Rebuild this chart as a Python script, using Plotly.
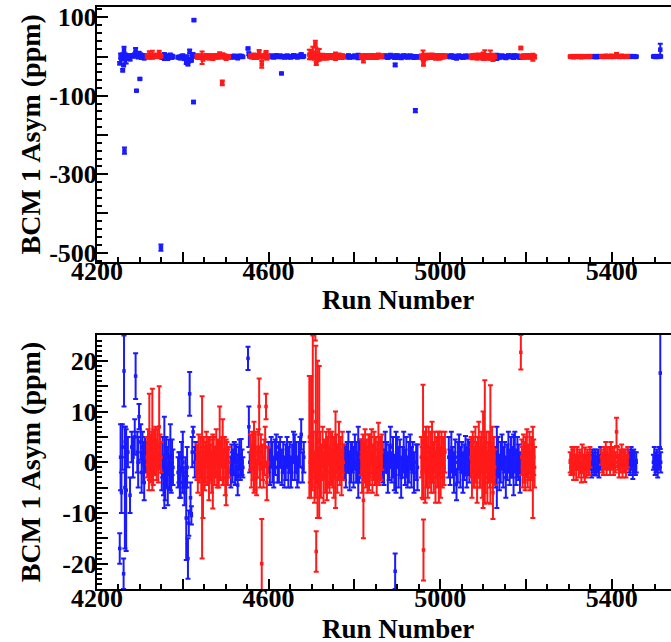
import plotly.graph_objects as go

# ---------------- data ----------------
blue_run = [
    4253, 4255, 4257, 4259, 4260, 4262, 4263, 4264, 4265, 4266, 4268, 4272, 4277, 4281, 4284,
    4288, 4290, 4292, 4294, 4296, 4298, 4300, 4302, 4304, 4306, 4308, 4310, 4312, 4314,
    4349, 4351, 4353, 4355, 4357, 4359, 4361, 4363, 4365, 4367, 4369, 4371, 4373, 4375, 4377,
    4389, 4391, 4393, 4395, 4397, 4400, 4402, 4404, 4406, 4408, 4410, 4412, 4414, 4416, 4418,
    4420, 4422, 4424, 4425, 4426, 4428, 4430,
    4512, 4514, 4516, 4518, 4520, 4522, 4524, 4526, 4528, 4530, 4532, 4534, 4536, 4538, 4540,
    4552, 4554, 4556,
    4600, 4603, 4606, 4609, 4612, 4615, 4618, 4621, 4624, 4627, 4630, 4631, 4634, 4637, 4640,
    4643, 4646, 4649, 4652, 4655, 4658, 4661, 4664, 4667, 4670, 4673, 4676, 4679, 4682,
    4777, 4780, 4783, 4786, 4789, 4792, 4795, 4798, 4801, 4804, 4807, 4809, 4811, 4813,
    4866, 4869, 4872, 4875, 4878, 4881, 4884, 4887, 4890, 4893, 4895, 4897, 4900, 4903, 4906,
    4909, 4912, 4915, 4918, 4921, 4924, 4927, 4930, 4933, 4936, 4939, 4942, 4944, 4947,
    5020, 5023, 5026, 5029, 5032, 5035, 5038, 5041, 5044, 5047, 5050, 5053, 5056, 5059, 5062,
    5065, 5068,
    5130, 5132, 5135, 5138, 5141, 5144, 5147, 5150, 5153, 5156, 5159, 5162, 5165, 5168, 5171,
    5174, 5177, 5180, 5183, 5186,
    5351, 5353, 5355, 5357, 5359, 5361, 5364, 5366, 5368, 5370, 5372, 5374,
    5439, 5441, 5443, 5445, 5447, 5449, 5451, 5453, 5455, 5457,
    5497, 5499, 5501, 5503, 5505, 5507, 5509, 5511, 5513, 5514,
]
blue_asym = [
    -17, 1, -6, 3, -35, -22, 18, -240, -5, 4, -5.5, 2, -6.5, 3, 1,
    5, 17, -87, 2, 0, 9, -57, 4, -2, 3, 0, -4, 2, 1,
    -487, -2, 1, -3, 0, -4, 2, -1, -5, 1, -2, 1, -3, 1, -1,
    -2, -1, -2.5, -4, 1, 0, -3, -6, -2, -11, -1, -19, -12, 13.5, -7,
    -10.5, 2, 6, -116, 93, 0, 2,
    -2, 1, -1, 0, 2, -2, 1, -1, -4.5, 0, 1.5, -1, 1, 0, -1,
    20.5, 7, 0,
    1, -1, 2, 0, -2, 1, 3, -1, 0, 2, -43, -1, 1, -2, 0,
    2, -1, 1, -2, 0, 3, 1, 1, -2, 0, 2, 5.5, -1, 1,
    0, -1, 1, 2, -2, 0, 1, -1, 2, 0, -1, 0, -3, 1,
    0, -1, 2, 1, -2, 0, 3, -1, 1, -2, -21.5, 0, 2, -1, 1,
    -3, 0, 2, -1, 1, -2, 0, 2, -1, 1, -2, -138, 0, -1,
    1, -1, 2, 0, -2, 1, -4.4, 0, 2, -1, 1, -2, 0, 1.3, -1,
    1, 0,
    -1, -1, 1, -2, 0, 2, -1, 1, -3, 0, 2, -1, 1, 0, -0.5,
    2, -1, 1, 0, -2,
    0, -1, 1, 0, -1, 1, -1.6, 0, 1, -1, 0, 1,
    1, 0, -1, 1, 0, -0.5, 1, 0, -1, 0,
    0, 1, -1, 0, 1, -1, 0, 1, 17.6, 0,
]
blue_err = [
    3, 6.5, 4, 4.5, 3, 3, 7, 8, 12, 3, 12, 3, 3.5, 3, 4,
    3.5, 4.5, 2, 4, 5, 2.5, 2, 3.5, 4, 3, 4, 3.5, 3, 3,
    8, 3.5, 4, 3.5, 9, 3.5, 3, 4, 3.5, 3.5, 3.5, 6.5, 3, 3.5, 3.5,
    3, 3, 4.5, 3, 3, 6, 2, 2.5, 3, 8.3, 4, 4, 2.5, 4.3, 3,
    1.8, 3, 1, 3, 3, 3, 2,
    3, 2.5, 3, 2.5, 2, 2.5, 2.5, 2.5, 2, 3, 3, 2.5, 3.6, 2.5, 2,
    2.3, 4, 2,
    3, 3.5, 3, 4, 3, 3.5, 2.5, 3, 4, 3, 2, 3.5, 3, 3, 3.5,
    3, 4, 3, 3, 3.5, 3, 4.5, 3, 3, 4, 3, 3, 3, 3,
    3.5, 4, 3, 4, 3.5, 4, 3, 4, 3.5, 4, 3, 7, 1, 3.5,
    4, 3.5, 4, 3, 4, 3.5, 4, 3, 4, 3.5, 3.5, 6, 3, 4, 3.5,
    4, 3, 4, 3.5, 4, 3, 4, 3.5, 4, 3, 4, 4, 3.5, 4.5,
    4, 3.5, 4, 3, 4, 3.5, 3.1, 4, 3.5, 4, 3, 4, 3.5, 3.9, 4,
    3.5, 4,
    4, 8, 4, 3.5, 4, 3.5, 4, 3, 4, 3.5, 4, 3.5, 4, 3, 6,
    4, 3.5, 4, 3.5, 4,
    1.5, 2, 1.5, 2, 1.5, 1.5, 1, 2, 1.5, 2, 1.5, 2,
    1.5, 2, 1.5, 2, 1.5, 2.8, 1.5, 2, 1.5, 2,
    1.5, 2, 1.5, 2, 1.5, 2, 1.5, 2, 15, 2,
]

red_run = [
    4317, 4319, 4321, 4322, 4324, 4326, 4328, 4329, 4331, 4333, 4335, 4337, 4339, 4341, 4343,
    4345, 4347, 4349,
    4433, 4435, 4437, 4439, 4441, 4443, 4445, 4447, 4449, 4451, 4453, 4455, 4457, 4459, 4461,
    4463, 4465, 4467, 4469, 4470, 4472, 4474, 4476, 4478, 4480, 4482, 4484, 4486, 4488, 4490,
    4492, 4493, 4495, 4497, 4499, 4501, 4503, 4505, 4507,
    4558, 4560, 4562, 4564, 4566, 4568, 4570, 4572, 4574, 4576, 4578, 4580, 4582, 4584, 4586,
    4588, 4590, 4592, 4594, 4596, 4598,
    4695, 4697, 4699, 4701, 4703, 4705, 4707, 4709, 4710, 4711, 4712, 4714, 4716, 4718, 4720,
    4722, 4724, 4726, 4728, 4730, 4732, 4734, 4736, 4738, 4740, 4742, 4744, 4746, 4748, 4750,
    4752, 4754, 4756, 4758, 4760, 4762, 4764, 4766, 4768, 4770, 4772, 4774,
    4816, 4818, 4820, 4821, 4823, 4825, 4827, 4829, 4831, 4833, 4834, 4836, 4838, 4840, 4842,
    4844, 4846, 4848, 4850, 4852, 4854, 4856, 4858, 4860, 4862, 4864,
    4956, 4958, 4960, 4961, 4963, 4965, 4967, 4969, 4971, 4973, 4975, 4977, 4979, 4981, 4983,
    4985, 4987, 4989, 4991, 4993, 4995, 4997, 4999, 5001, 5003, 5005, 5007, 5009, 5011,
    5072, 5074, 5076, 5078, 5080, 5082, 5084, 5086, 5088, 5090, 5092, 5094, 5096, 5098, 5100,
    5102, 5104, 5106, 5108, 5110, 5112, 5114, 5116, 5117, 5119, 5121, 5123, 5125, 5127,
    5188, 5190, 5192, 5194, 5196, 5198, 5200, 5202, 5204, 5206, 5208, 5210, 5212, 5214, 5216,
    5218, 5220,
    5303, 5305, 5307, 5309, 5311, 5313, 5315, 5317, 5319, 5321, 5323, 5325, 5327, 5329, 5331,
    5333, 5335, 5337, 5339, 5341, 5343, 5345, 5347, 5349,
    5376, 5378, 5380, 5382, 5384, 5386, 5388, 5390, 5392, 5394, 5396, 5398, 5400, 5402, 5404,
    5406, 5408, 5411, 5413, 5415, 5417, 5419, 5421, 5423, 5425, 5427, 5429, 5431, 5433, 5435,
    5437,
]
red_asym = [
    1, 3, -2, 5, 2, 0, 3, 4.5, -1, 2, 1, 4, 0, 3, -1,
    7, 2, 1,
    0, -2, 2, -1, 1, -3, -3, -4, 2, -2, 0, 3, -1, 1, -4,
    2, 0, -2, 1, -1.8, 2, -1, 0, 3, -2, 1, -1, 4, 0, 2,
    -67, 2, -1, 2, -3, -2, 1, -1, 0,
    2, -1, 3, 0, 1, -2, 2, -3, 0, 3, 11, -1, 2, -20, 0,
    -2, 1, 3, 11, -4, 0,
    5, 0, 5, -2, 10, 2, -3, 32, 8, -17.6, 1, 4.5, -1, 4, 2,
    -2, 0, 3, -3, 1, -1, 2, -4, 0, 3, -2, 1, -1, 2, 0,
    -3, 1, 0.5, 2, -2, 0, 3, -1, 1, -3, 2, 0,
    1, -2, 2, -7.5, 0, 3, -1, 1, -2, 2, 0, -1, 1, 3, -2,
    0, 2, -1, 1, -3, 0, 2.3, -1, 1, 0, 2,
    1, -2, 4, -17.3, 2, -1, 3, 0, -3, 2, -1, 1, -2, 3, 0,
    -1, 2, -3, 1, 0, 2, -1, 1, -2, 2, 0, 1, -1, 2,
    1, -2, 2, 0, -1, 2, 0, -3, 1, 3, -1, 0, 2, -2, 0.5,
    1, 4, -1, 2, -3, 0, 1, -1, 3.5, 0, 2, -6, 1, -1,
    21.7, 1, -1, 2, 0, -2, 1, 3, -1, 0, 2, -2, 1, 0, -2,
    1, -1,
    0, -1, 1, 0, -2, 1, 0, -1, 1, 0, -1, 1, 0, -2, 1,
    0, -1, -0.5, 0, -1, 1, 0, -1, 1,
    1, 0, -1, 1, 0, 2, -1, 1, 0, 1, -1, 2, 0, 1, -1,
    1.1, 0, 6, 1, 0, -1, 1, 0, 2, -1, 1, 0, 1, -1, 0,
    1,
]
red_err = [
    4, 3.5, 3.5, 8.5, 3.5, 4, 3, 10, 3.5, 4.5, 3.5, 3, 3.5, 3.5, 3,
    8, 3.5, 3,
    3.5, 4, 3.5, 3, 4, 3.5, 16, 7, 3, 3.5, 4, 3, 3.5, 4, 3.5,
    3, 3.5, 4, 3.5, 7.3, 3, 3.5, 3, 3.5, 3, 3.5, 4, 7, 3.5, 3,
    6, 6.5, 3.5, 3, 3.5, 6.5, 3, 3.5, 3,
    3.5, 4, 3, 3.5, 7, 3.5, 4, 3.5, 3, 3.5, 5.5, 4, 3.5, 8.8, 3.5,
    3, 3.5, 4, 2.5, 3.5, 3,
    12, 4, 12, 3.5, 15, 4, 5, 8, 15, 4, 5, 15.5, 4, 15, 4,
    5, 3.5, 4, 5, 3.5, 5, 4, 3.5, 5, 3.5, 4, 5, 3.5, 4, 5,
    4, 4, 9.5, 3.5, 4, 3.5, 5, 3.5, 4, 3.5, 4, 3.5,
    3.5, 4, 3.5, 7.5, 4, 3.5, 4, 3.5, 4, 3.5, 5.5, 3.5, 4, 3.5, 4,
    3.5, 4, 3.5, 4, 3.5, 4, 5.5, 3.5, 4, 3.5, 3.5,
    4, 5, 11.3, 6, 4, 7, 4, 5, 4, 5, 4, 5, 4, 5, 4,
    5, 4, 5, 4, 5, 4, 7, 4, 5, 4, 5, 4, 3.5, 4,
    4, 5, 4, 5, 4, 5, 4, 5, 4, 5, 4, 5, 4, 5, 9.5,
    4, 12.2, 5, 4, 5, 4, 5, 4, 11.7, 4, 5, 5.2, 4, 3.5,
    3.4, 3.5, 4, 3.5, 4, 3.5, 4, 3.5, 4, 3.5, 4, 3.5, 4, 3.5, 9,
    3.5, 4,
    2, 1.5, 2, 2.5, 1.5, 2, 1.5, 2.5, 2, 1.5, 2, 1.5, 2, 2, 2.5,
    1.5, 2, 3.4, 1.5, 2, 1.5, 2, 1.5, 2,
    1.5, 2, 1.5, 2, 1.5, 2, 1.5, 2, 1.5, 2, 1.5, 2, 1.5, 2, 1.5,
    1.8, 2, 2.8, 2, 1.5, 2, 1.5, 2, 1.5, 2, 1.5, 2, 1.5, 2, 1.5,
    2,
]

x_tickvals = [4200, 4400, 4600, 4800, 5000, 5200, 5400]
x_ticktext = ["4200", "", "4600", "", "5000", "", "5400"]
top_tickvals = [-500, -400, -300, -200, -100, 0, 100]
top_ticktext = ["-500", "", "-300", "", "-100", "", "100"]
bot_tickvals = [-20, -15, -10, -5, 0, 5, 10, 15, 20]
bot_ticktext = ["-20", "", "-10", "", "0", "", "10", "", "20"]

assert len(blue_run) == len(blue_asym) == len(blue_err)
assert len(red_run) == len(red_asym) == len(red_err)

BLUE = "#1a1aff"
RED = "#ff1a1a"
FONT = "Liberation Serif"

fig = go.Figure()
for runs, asym, err, col in [(blue_run, blue_asym, blue_err, BLUE),
                             (red_run, red_asym, red_err, RED)]:
    for xa, ya, ms in [("x", "y", 4.5), ("x2", "y2", 3.5)]:
        fig.add_trace(go.Scatter(
            x=runs, y=asym, mode="markers", xaxis=xa, yaxis=ya,
            marker=dict(color=col, size=ms, symbol="square", line=dict(width=0)),
            error_y=dict(type="data", array=err, color=col, thickness=2, width=2.5),
            showlegend=False, hoverinfo="skip"))

tickfont = dict(family=FONT, size=26, color="black", weight="bold")
xcommon = dict(range=[4200, 5538], showline=True, linecolor="black", linewidth=2,
               mirror=True, ticks="inside", ticklen=10, tickwidth=1.5, tickcolor="black",
               tickmode="array", tickvals=x_tickvals, ticktext=x_ticktext,
               minor=dict(tickmode="linear", tick0=4200, dtick=50, ticks="inside",
                          ticklen=5, tickwidth=1.5, tickcolor="black"),
               showgrid=False, zeroline=False, tickfont=tickfont, automargin=False,
               ticklabelstandoff=-15)
ycommon = dict(showline=True, linecolor="black", linewidth=2, mirror=False,
               ticks="inside", ticklen=11, tickwidth=1.5, tickcolor="black",
               tickmode="array", showgrid=False, zeroline=False, tickfont=tickfont,
               automargin=False, ticklabelstandoff=-7)

fig.update_layout(
    width=671, height=642,
    margin=dict(l=97, r=0, t=7, b=53, autoexpand=False),
    paper_bgcolor="white", plot_bgcolor="white",
    xaxis=dict(**xcommon, domain=[0, 1], anchor="y"),
    xaxis2=dict(**xcommon, domain=[0, 1], anchor="y2"),
    yaxis=dict(**ycommon, domain=[0.5619, 1], anchor="x", range=[-523.7, 126.3],
               tickvals=top_tickvals, ticktext=top_ticktext,
               minor=dict(tickmode="linear", tick0=-500, dtick=20, ticks="inside",
                          ticklen=5, tickwidth=1.5, tickcolor="black")),
    yaxis2=dict(**ycommon, domain=[0, 0.4364], anchor="x2", range=[-25, 25.1],
                tickvals=bot_tickvals, ticktext=bot_ticktext,
                minor=dict(tickmode="linear", tick0=0, dtick=1, ticks="inside",
                           ticklen=5, tickwidth=1.5, tickcolor="black")),
)

title_font = dict(family=FONT, size=28, color="black", weight="bold")
xt_font = dict(family=FONT, size=27, color="black", weight="bold")
for yc in [0.781, 0.218]:
    fig.add_annotation(text="BCM 1 Asym (ppm)", xref="paper", yref="paper",
                       x=-0.1167, y=yc, xanchor="center", yanchor="middle",
                       textangle=-90, showarrow=False, font=title_font)
for yc in [0.4966, -0.0687]:
    fig.add_annotation(text="Run Number", xref="paper", yref="paper",
                       x=0.5244, y=yc, xanchor="center", yanchor="middle",
                       showarrow=False, font=xt_font)

fig.write_html("out.html", config={"displayModeBar": False},
               post_script="document.body.style.margin='0px';document.body.style.overflow='hidden';")
